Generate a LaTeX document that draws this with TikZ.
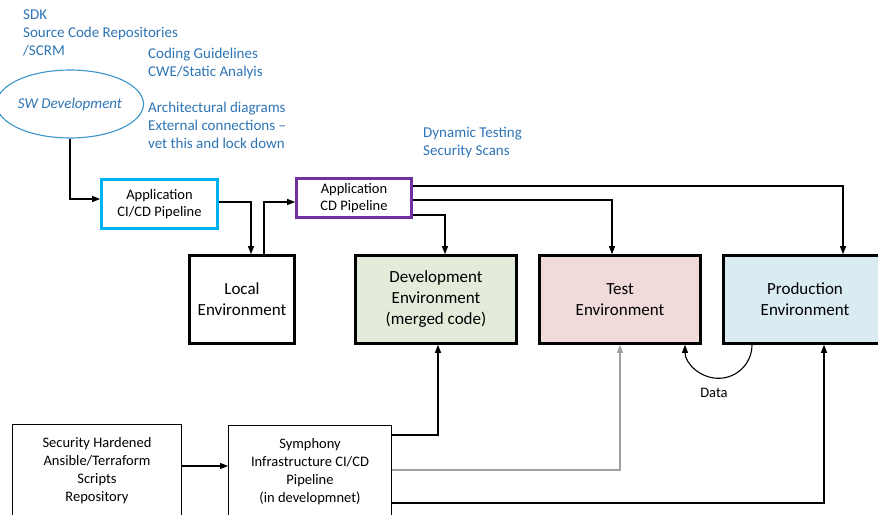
\documentclass[tikz,border=0pt]{standalone}
\usepackage{fontspec}
\setmainfont{Carlito}
\usetikzlibrary{arrows.meta,shapes.geometric}
\definecolor{txtblue}{RGB}{46,117,182}
\definecolor{ellblue}{RGB}{60,150,205}
\definecolor{cicdcyan}{RGB}{0,176,240}
\definecolor{cdpurple}{RGB}{112,48,160}
\definecolor{devfill}{RGB}{227,236,218}
\definecolor{testfill}{RGB}{240,218,218}
\definecolor{prodfill}{RGB}{218,236,242}
\definecolor{grayline}{RGB}{160,160,160}
\tikzset{
  envbox/.style={draw, line width=2.6pt, align=center, inner sep=0pt,
    font=\fontsize{17}{21}\selectfont},
  appbox/.style={draw, line width=2.6pt, align=center, inner sep=0pt,
    font=\fontsize{14.5}{17.5}\selectfont},
  botbox/.style={draw, line width=0.9pt, align=center, inner sep=0pt, anchor=north,
    font=\fontsize{14.5}{18}\selectfont},
  note/.style={text=txtblue, align=left, anchor=north west, inner sep=0pt,
    font=\fontsize{15}{18}\selectfont},
  conn/.style={line width=1.1pt, -{Triangle[length=8pt,width=6pt]}},
  grayconn/.style={line width=1.1pt, draw=grayline, -{Triangle[length=8pt,width=6pt,fill=grayline]}},
}
\begin{document}
\begin{tikzpicture}[x=1pt,y=-1pt]
\useasboundingbox (0,0) rectangle (878,514);
\clip (0,0) rectangle (878,514);
\fill[white] (0,0) rectangle (878,514);

% notes
\node[note] (sdk) at (23,10) {SDK\\Source Code Repositories\\/SCRM};
\node[note] (coding) at (148,48) {Coding Guidelines\\CWE/Static Analyis};
\node[note] (arch) at (148,102) {Architectural diagrams\\External connections --\\vet this and lock down};
\node[note] (dyn) at (423,127) {Dynamic Testing\\Security Scans};

\node[ellipse, draw=ellblue, line width=1.1pt, minimum width=119pt, minimum height=68pt,
  inner sep=0pt, text=txtblue, font=\fontsize{15}{18}\selectfont\itshape] (sw) at (70,104) {SW Development};

% pipelines
\node[appbox, draw=cicdcyan, minimum width=116pt, minimum height=49pt] (cicd) at (159.5,204) {Application\\CI/CD Pipeline};
\node[appbox, draw=cdpurple, minimum width=115pt, minimum height=39pt] (cd) at (354,198) {Application\\CD Pipeline};

% environments
\node[envbox, minimum width=105pt, minimum height=88pt] (local) at (242,299.5) {Local\\Environment};
\node[envbox, fill=devfill, minimum width=161pt, minimum height=88pt] (dev) at (436,299.5) {Development\\Environment\\(merged code)};
\node[envbox, fill=testfill, minimum width=161pt, minimum height=88pt] (test) at (620,299.5) {Test\\Environment};
\node[envbox, fill=prodfill, minimum width=163pt, minimum height=88pt] (prod) at (805,299.5) {Production\\Environment};

% bottom boxes
\node[botbox, minimum width=169pt, minimum height=92pt] (sec) at (97,424) {Security Hardened\\Ansible/Terraform\\Scripts\\Repository};
\node[botbox, minimum width=163pt, minimum height=92pt] (sym) at (310,425) {Symphony\\Infrastructure CI/CD\\Pipeline\\(in developmnet)};

% helper coordinates
\coordinate (r186) at (0,186);
\coordinate (r199) at (0,199);
\coordinate (r200) at (0,200);
\coordinate (r202) at (0,202);
\coordinate (r215) at (0,215);
\coordinate (r435) at (0,435);
\coordinate (r466) at (0,466);
\coordinate (r470) at (0,470);
\coordinate (r503) at (0,503);
\coordinate (c251) at (251,0);
\coordinate (c264) at (264,0);
\coordinate (c438) at (438,0);
\coordinate (c445) at (445,0);
\coordinate (c612) at (612,0);
\coordinate (c620) at (620,0);
\coordinate (c752) at (752,0);
\coordinate (c824) at (824,0);
\coordinate (c843) at (843,0);

% connectors
\draw[conn] (sw.south) |- (cicd.west |- r199);
\draw[conn] (cicd.east |- r202) -| (local.north -| c251);
\draw[conn] (local.north -| c264) |- (cd.west |- r202);
\draw[conn] (cd.east |- r186) -| (prod.north -| c843);
\draw[conn] (cd.east |- r200) -| (test.north -| c612);
\draw[conn] (cd.east |- r215) -| (dev.north -| c445);

\draw[conn] (sec.east |- r466) -- (sym.west |- r466);
\draw[conn] (sym.east |- r435) -| (dev.south -| c438);
\draw[grayconn] (sym.east |- r470) -| (test.south -| c620);
\draw[conn] (sym.east |- r503) -| (prod.south -| c824);

\draw[conn] (prod.south -| c752) arc[start angle=0, end angle=180, radius=33.5];
\node[font=\fontsize{14.5}{17}\selectfont, inner sep=0pt] (data) at (714,393) {Data};
\end{tikzpicture}
\end{document}
